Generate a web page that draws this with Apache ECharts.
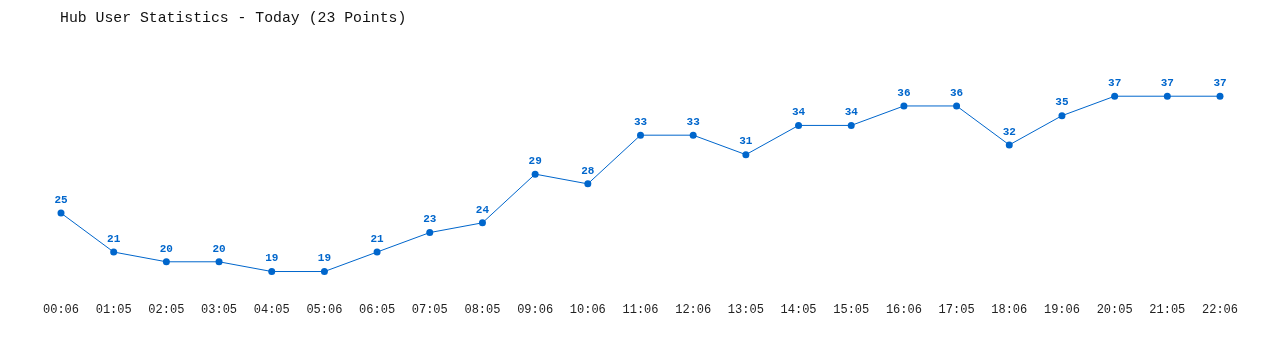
<!DOCTYPE html>
<html><head><meta charset="utf-8">
<script src="https://cdn.jsdelivr.net/npm/echarts@6/dist/echarts.min.js"></script>
<style>html,body{margin:0;padding:0;background:#fff}#c{width:1280px;height:350px}</style>
</head><body><div id="c"></div>
<script>
const categories = ["00:06","01:05","02:05","03:05","04:05","05:06","06:05","07:05","08:05","09:06","10:06","11:06","12:06","13:05","14:05","15:05","16:06","17:05","18:06","19:06","20:05","21:05","22:06"];
const users = [25,21,20,20,19,19,21,23,24,29,28,33,33,31,34,34,36,36,32,35,37,37,37];
const titleText = "Hub User Statistics - Today (23 Points)";
const mono = 'Liberation Mono, DejaVu Sans Mono, monospace';
const chart = echarts.init(document.getElementById('c'), null, {renderer:'canvas'});
chart.setOption({
  animation:false,
  backgroundColor:'#fff',
  title:{text:titleText,left:55,top:6,textStyle:{fontFamily:mono,fontSize:14.8,fontWeight:'normal',color:'#111'}},
  grid:{left:61,right:60,top:67,height:224},
  xAxis:{type:'category',data:categories,boundaryGap:false,
    axisLine:{show:false},axisTick:{show:false},splitLine:{show:false},
    axisLabel:{interval:0,margin:13,fontFamily:mono,fontSize:12,color:'#222'}},
  yAxis:{type:'value',min:17,max:40,show:false,splitLine:{show:false}},
  series:[{type:'line',data:users,symbol:'circle',symbolSize:7,
    lineStyle:{color:'#0066cc',width:1},itemStyle:{color:'#0066cc'},
    label:{show:true,position:'top',distance:4,color:'#0066cc',fontWeight:'bold',fontSize:11,fontFamily:mono}}]
});
</script></body></html>
